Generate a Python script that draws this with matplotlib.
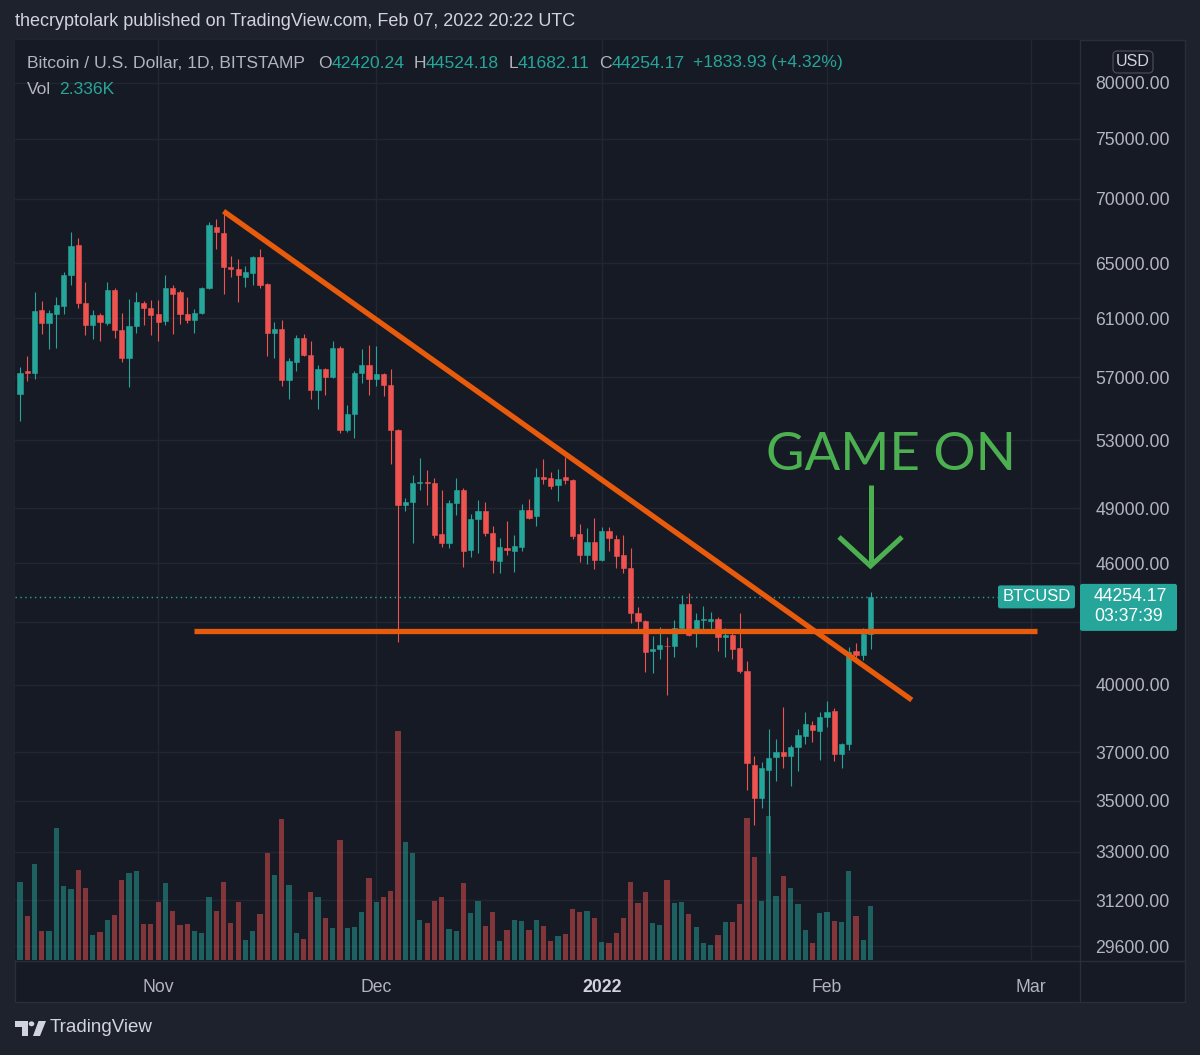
import numpy as np
import matplotlib
matplotlib.use('Agg')
import matplotlib.pyplot as plt
import matplotlib.dates as mdates
from matplotlib.patches import Rectangle, FancyBboxPatch, Polygon, Circle
from matplotlib.lines import Line2D
from matplotlib.ticker import NullLocator

plt.rcParams['font.family'] = ['Liberation Sans', 'DejaVu Sans']

W, H = 1200, 1055

# BTCUSD daily candles (Bitstamp), 13 Oct 2021 -> 7 Feb 2022
first_day = np.datetime64('2021-10-13')

opens = [55900, 57380, 57250, 61600, 60700, 61330, 61900, 64150, 66380, 62100, 60560, 61200, 60700, 63000, 60150, 58300, 60480, 62110, 61750,
         61270, 60840, 63150, 62840, 61330, 60910, 61400, 63150, 67750, 67260, 64720, 64560, 64000, 64230, 65420, 63470, 60000, 60270, 56800, 57980,
         59660, 58470, 56150, 57510, 57040, 58930, 53630, 54620, 57250, 57800,
         56870, 57180, 56460, 53630, 49170, 49380, 50470, 50530, 50470, 47560, 47070, 49330, 50070, 46690, 48380, 48830, 47610, 46100, 46800, 46640,
         46850, 48890, 48550, 50820, 50760, 50360, 50820, 50640, 47560, 46430, 47120,
         46150, 47720, 47290, 46430, 45740, 43440, 43040, 41590, 41680, 41820, 41820, 42680, 43890, 42450, 43090, 43040, 43140, 42260, 42360, 41730,
         40640, 36460, 35100, 36250, 36800, 37010, 36840, 37220, 37690, 38170, 37900,
         38520, 38790, 36930, 37340, 41590, 41400, 42420.24]
highs = [57700, 58400, 62840, 62250, 61600, 62530, 64360, 67340, 66900, 63620, 61600, 61350, 63620, 63150, 61350, 62400, 62840, 62250, 62320,
         62320, 64150, 63400, 63000, 62530, 61680, 63200, 68140, 68370, 69000, 65500, 65340, 64800, 65500, 66100, 63500, 60770, 60910, 58260, 59800,
         59870, 59390, 57800, 57580, 59390, 59060, 55180, 57380, 58860, 59130,
         59060, 57250, 57510, 53700, 49600, 50940, 51930, 51230, 50760, 50070, 49500, 50760, 50190, 48670, 49500, 49380, 48000, 47340, 48320, 47500,
         49270, 49550, 51350, 51870, 51110, 51290, 51990, 50700, 48110, 47890, 48490,
         47940, 47940, 47500, 47500, 46800, 43740, 43100, 42310, 42730, 42260, 43090, 44340, 44440, 43440, 43790, 43490, 43240, 42680, 42500, 43440,
         41110, 36840, 36590, 38000, 37560, 38970, 37300, 38030, 38750, 38340, 38750,
         39270, 38920, 37400, 41770, 41960, 42680, 44524.18]
lows = [54170, 56750, 56860, 59870, 58860, 58930, 61270, 63400, 61750, 59800, 59530, 59390, 60560, 59660, 57990, 56350, 60000, 60560, 59800,
        59390, 60560, 59870, 60630, 60700, 60000, 61270, 63100, 66100, 62760, 64000, 62180, 63260, 63400, 63180, 58400, 58300, 56410, 55580, 57380,
        58400, 55580, 54930, 55850, 56940, 53420, 53490, 53150, 56600, 55850,
        56410, 55790, 51590, 42030, 48870, 47070, 50070, 49170, 47340, 46850, 46800, 48620, 45800, 46330, 46540, 47450, 45490, 45490, 46430, 45540,
        46640, 48430, 48000, 50420, 50130, 49440, 50420, 47290, 46050, 45950, 45690,
        46100, 46640, 45740, 45490, 42940, 42590, 40600, 40550, 41210, 39540, 41300, 42540, 42300, 41770, 42590, 42640, 41590, 41300, 41210, 40550,
        35440, 34040, 34720, 32960, 35790, 36330, 35580, 36210, 37340, 37430, 36670,
        38080, 36630, 36330, 37090, 41060, 41160, 41682.11]
closes = [57250, 57250, 61540, 60700, 61400, 61950, 64150, 66300, 62100, 60560, 61200, 60770, 63000, 60150, 58300, 60480, 62180, 61750, 61200,
          60770, 63150, 62760, 61270, 60910, 61400, 63150, 67890, 67340, 64720, 64560, 64080, 64300, 65420, 63400, 60000, 60270, 56800, 58050, 59660,
          58450, 56150, 57510, 57040, 58930, 53630, 54620, 57250, 57800, 56870,
          57180, 56460, 53630, 49170, 49380, 50470, 50530, 50470, 47500, 47070, 49330, 50070, 46640, 48380, 48830, 47610, 46150, 46850, 46690, 46900,
          48890, 48490, 50820, 50700, 50300, 50700, 50640, 47450, 46430, 47120, 46150,
          47720, 47340, 46380, 45740, 43440, 43040, 41540, 41680, 41870, 41800, 42680, 43890, 42360, 43090, 43140, 43140, 42260, 42360, 41680, 40640,
          36540, 35100, 36330, 36760, 37010, 36840, 37220, 37730, 38210, 37950, 38520,
          38750, 36930, 37340, 41540, 41400, 42420.24, 44254.17]
# volume in BTC
volumes = [3341, 1879, 4128, 1247, 1247, 5663, 3182, 3053, 3870, 3096, 1075, 1191, 1720, 1935, 3440, 3728, 3814, 1548, 1548,
           2494, 3298, 2107, 1505, 1548, 1247, 1148, 2696, 2107, 3354, 1591, 2494, 860, 1247, 1978, 4588, 3655, 6063, 3225, 1161,
           903, 2911, 2709, 1806, 1376, 5160, 1376, 1406, 2064, 3526,
           2494, 2709, 2954, 9847, 5074, 4601, 1720, 1591, 2537, 2696, 1333, 1234, 3298, 2008, 2550, 1462, 2077, 830, 1303, 1720,
           1690, 1303, 1720, 1449, 830, 1045, 1118, 2193, 2077, 2120, 1793,
           761, 718, 1148, 1806, 3367, 2438, 2937, 1591, 1518, 3453, 2438, 2507, 1978, 1406, 718, 658, 1075, 1647, 1647, 2408,
           6093, 4442, 2524, 6205, 2765, 3625, 3083, 2408, 1303, 718, 2021,
           2077, 1690, 1621, 3840, 1879, 873, 2336]

price_ticks = [29600, 31200, 33000, 35000, 37000, 40000, 43000, 46000, 49000, 53000,
               57000, 61000, 65000, 70000, 75000, 80000]
month_ticks = ['2021-11-01', '2021-12-01', '2022-01-01', '2022-02-01', '2022-03-01']
month_labels = ['Nov', 'Dec', '2022', 'Feb', 'Mar']

# drawn lines (date, price)
trend_line = (['2021-11-10T00:00', '2022-02-12T16:00'], [69000, 39300])
support_line = (['2021-11-06T00:00', '2022-03-01T22:00'], [42550, 42550])

UP, DOWN = '#26a69a', '#ef5350'
PANE, OUTER, BORDER, GRID = '#161a25', '#1e222d', '#2a2e39', '#222632'
TXT, TXT2 = '#d1d4dc', '#b2b5be'
ORANGE, GREEN = '#e85a0c', '#4caf50'


def fx(x):
    return x / W


def fy(y):
    return 1 - y / H


o = np.array(opens)
c = np.array(closes)
hi = np.array(highs)
lo = np.array(lows)
vol = np.array(volumes)
n = len(o)
xs = mdates.date2num(first_day + np.arange(n))
up = c >= o
cols = np.where(up, UP, DOWN)

fig = plt.figure(figsize=(12, 10.55), dpi=100, facecolor=OUTER)
fig.patches.append(Rectangle((fx(15), fy(1002)), fx(1170), 962 / H, transform=fig.transFigure,
                             facecolor=PANE, edgecolor=BORDER, lw=1, zorder=-1))

rect = [fx(15), fy(960), 1065 / W, 920 / H]
ax_bg = fig.add_axes(rect)
ax_vol = fig.add_axes(rect, sharex=ax_bg)
ax = fig.add_axes(rect, sharex=ax_bg, sharey=ax_bg)
for a in (ax_bg, ax_vol, ax):
    for s in a.spines.values():
        s.set_visible(False)
ax_bg.set_facecolor(PANE)
ax_vol.patch.set_visible(False)
ax.patch.set_visible(False)

ax_bg.set_yscale('log')
ax_bg.set_ylim(29130, 84040)
ax_bg.set_xlim(xs[0] - 0.69, xs[0] + 145.8)

# volume
ax_vol.bar(xs, vol, width=0.72, color=cols, alpha=0.5, lw=0)
ax_vol.set_ylim(0, 39560)
ax_vol.set_yticks([])
ax_vol.tick_params(labelbottom=False, length=0)

# candles
ax.vlines(xs, lo, hi, colors=cols, lw=0.8, zorder=2)
ax.bar(xs, np.abs(c - o), bottom=np.minimum(o, c), width=0.72, color=cols,
       edgecolor=cols, lw=0.4, zorder=3)

# grid
mt = mdates.date2num(np.array(month_ticks, dtype='datetime64[D]'))
ax.set_yticks(price_ticks)
ax.set_yticklabels(['' if t == 43000 else f'{t:.2f}' for t in price_ticks])
ax.yaxis.set_minor_locator(NullLocator())
ax.set_xticks(mt)
ax.set_xticklabels(month_labels)
ax_bg.grid(True, color=GRID, lw=1)
ax_bg.tick_params(which='both', length=0, labelleft=False, labelbottom=False)
ax.tick_params(axis='y', which='both', length=0, left=False, labelleft=False,
               right=False, labelright=True, pad=11, labelsize=12.7, labelcolor=TXT2)
ax.tick_params(axis='x', length=0, pad=14, labelsize=12.7, labelcolor=TXT2)
lab = ax.get_xticklabels()[2]
lab.set_fontweight('bold')
lab.set_color(TXT)

# drawings
tx = mdates.date2num(np.array(trend_line[0], dtype='datetime64[m]'))
ax.plot(tx, trend_line[1], color=ORANGE, lw=3.8, solid_capstyle='butt', zorder=5)
sx = mdates.date2num(np.array(support_line[0], dtype='datetime64[m]'))
ax.plot(sx, support_line[1], color=ORANGE, lw=3.8, solid_capstyle='butt', zorder=5)

ax.axhline(c[-1], xmin=0, xmax=(998 - 15) / 1065, color=UP, lw=1, ls=(0, (1, 2.5)), zorder=1)

# frame lines
fig.lines.append(Line2D([fx(15), fx(1185)], [fy(961), fy(961)], transform=fig.transFigure, color=BORDER, lw=1))
fig.lines.append(Line2D([fx(1080), fx(1080)], [fy(40), fy(1002)], transform=fig.transFigure, color=BORDER, lw=1))

# last price labels
ydisp = ax.transData.transform((xs[-1], c[-1]))[1]
yp = H - ydisp
fig.patches.append(FancyBboxPatch((fx(998), fy(yp + 11.5)), 77 / W, 23 / H, transform=fig.transFigure,
                                  boxstyle='round,pad=0,rounding_size=0.002', facecolor=UP, lw=0, zorder=4))
fig.text(fx(1036.5), fy(yp), 'BTCUSD', color='white', fontsize=12, ha='center', va='center', zorder=5)
fig.patches.append(FancyBboxPatch((fx(1080), fy(yp + 34)), 97 / W, 47 / H, transform=fig.transFigure,
                                  boxstyle='round,pad=0,rounding_size=0.002', facecolor=UP, lw=0, zorder=4))
fig.text(fx(1094), fy(yp), f'{c[-1]:.2f}', color='white', fontsize=12.7, ha='left', va='center', zorder=5)
fig.text(fx(1094), fy(yp + 20), '03:37:39', color='white', fontsize=12.7, ha='left', va='center', zorder=5)

# USD badge
fig.patches.append(FancyBboxPatch((fx(1113), fy(73)), 40 / W, 22 / H, transform=fig.transFigure,
                                  boxstyle='round,pad=0,rounding_size=0.004', facecolor=PANE,
                                  edgecolor='#434651', lw=1, zorder=4))
fig.text(fx(1133), fy(62), 'USD', color=TXT, fontsize=11.5, ha='center', va='center', zorder=5)

# header
fig.text(fx(15), fy(22), 'thecryptolark published on TradingView.com, Feb 07, 2022 20:22 UTC',
         color=TXT, fontsize=13, va='center')

renderer = fig.canvas.get_renderer()


def put_row(items, x, y, size):
    for s, col, gap in items:
        t = fig.text(fx(x), fy(y), s, color=col, fontsize=size, va='center', ha='left')
        x += t.get_window_extent(renderer=renderer).width + gap


chg = c[-1] - c[-2]
put_row([('Bitcoin / U.S. Dollar, 1D, BITSTAMP', TXT2, 13),
         ('O', TXT2, 0), (f'{o[-1]:.2f}', UP, 9),
         ('H', TXT2, 0), (f'{hi[-1]:.2f}', UP, 9),
         ('L', TXT2, 0), (f'{lo[-1]:.2f}', UP, 9),
         ('C', TXT2, 0), (f'{c[-1]:.2f}', UP, 9),
         (f'{chg:+.2f} ({chg / c[-2] * 100:+.2f}%)', UP, 0)], 27, 63, 12.6)
put_row([('Vol', TXT2, 8), (f'{vol[-1] / 1000:.3f}K', UP, 0)], 27, 90, 12.6)

# GAME ON annotation
fig.text(fx(766), fy(470), 'GAME ON', family=['Lato', 'DejaVu Sans'], fontsize=38,
         color=GREEN, ha='left', va='baseline')
fig.lines.append(Line2D([fx(870.5), fx(870.5)], [fy(485), fy(562)], transform=fig.transFigure,
                        color=GREEN, lw=3.6, solid_capstyle='butt'))
fig.lines.append(Line2D([fx(839), fx(870.5), fx(902)], [fy(537), fy(566), fy(537)], transform=fig.transFigure,
                        color=GREEN, lw=3.6, solid_capstyle='butt', solid_joinstyle='miter'))

# TradingView logo
fig.patches.append(Polygon([(fx(15), fy(1021)), (fx(28), fy(1021)), (fx(28), fy(1036)), (fx(21.5), fy(1036)),
                            (fx(21.5), fy(1026.5)), (fx(15), fy(1026.5))], closed=True,
                           transform=fig.transFigure, facecolor=TXT, lw=0))
fig.patches.append(Circle((fx(31.5), fy(1023.8)), 2.8 / W, transform=fig.transFigure, facecolor=TXT, lw=0))
fig.patches.append(Polygon([(fx(33), fy(1036)), (fx(38.5), fy(1021)), (fx(46), fy(1021)), (fx(40), fy(1036))],
                           closed=True, transform=fig.transFigure, facecolor=TXT, lw=0))
fig.text(fx(50), fy(1028), 'TradingView', color=TXT, fontsize=13.5, va='center', ha='left')

fig.savefig('out.png', dpi=100, facecolor=OUTER)
